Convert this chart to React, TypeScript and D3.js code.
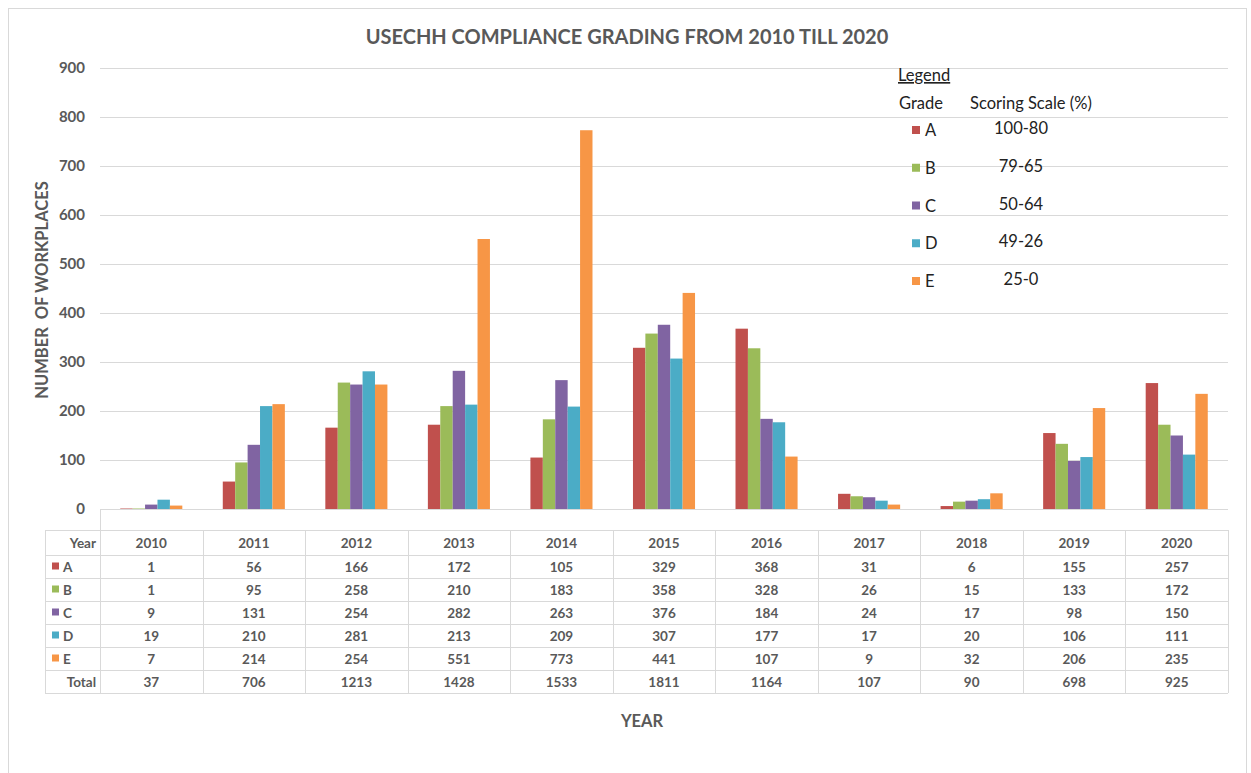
import React, { useRef, useEffect } from "react";
import * as d3 from "d3";

const years = ["2010", "2011", "2012", "2013", "2014", "2015", "2016", "2017", "2018", "2019", "2020"];
const grades = ["A", "B", "C", "D", "E"];
const gradeColors = ["#c0504d", "#9bbb59", "#8064a2", "#4bacc6", "#f79646"];
const scoringScale = ["100-80", "79-65", "50-64", "49-26", "25-0"];

const gradeA = [1, 56, 166, 172, 105, 329, 368, 31, 6, 155, 257];
const gradeB = [1, 95, 258, 210, 183, 358, 328, 26, 15, 133, 172];
const gradeC = [9, 131, 254, 282, 263, 376, 184, 24, 17, 98, 150];
const gradeD = [19, 210, 281, 213, 209, 307, 177, 17, 20, 106, 111];
const gradeE = [7, 214, 254, 551, 773, 441, 107, 9, 32, 206, 235];
const totals = [37, 706, 1213, 1428, 1533, 1811, 1164, 107, 90, 698, 925];

const yTicks = [0, 100, 200, 300, 400, 500, 600, 700, 800, 900];

const FONT = "Lato, 'Open Sans', sans-serif";
const GREY = "#595959";

const App = () => {
  const divRef = useRef<HTMLDivElement>(null);

  useEffect(() => {
    const root = d3.select(divRef.current);
    root.selectAll("*").remove();
    const svg = root
      .append("svg")
      .attr("width", 1251)
      .attr("height", 773)
      .style("position", "absolute")
      .style("left", "0px")
      .style("top", "0px")
      .style("font-family", FONT);

    svg.append("rect").attr("width", 1251).attr("height", 773).attr("fill", "#fff");
    // outer chart border
    svg
      .append("rect")
      .attr("x", 8.5)
      .attr("y", 8.5)
      .attr("width", 1238)
      .attr("height", 780)
      .attr("fill", "none")
      .attr("stroke", "#d9d9d9");

    const left = 100;
    const right = 1228;
    const x0 = d3.scaleBand<string>().domain(years).range([left, right]);
    const x1 = d3
      .scaleBand<string>()
      .domain(grades)
      .range([0, x0.bandwidth()])
      .paddingInner(0)
      .paddingOuter(1.63);
    const y = d3.scaleLinear().domain([0, 900]).range([509, 68]);

    // gridlines
    svg
      .append("g")
      .selectAll("line")
      .data(yTicks.filter((t) => t > 0))
      .join("line")
      .attr("x1", left)
      .attr("x2", right)
      .attr("y1", (d) => Math.round(y(d)) + 0.5)
      .attr("y2", (d) => Math.round(y(d)) + 0.5)
      .attr("stroke", "#d9d9d9");

    // y tick labels
    svg
      .append("g")
      .selectAll("text")
      .data(yTicks)
      .join("text")
      .attr("x", 85)
      .attr("y", (d) => y(d) + 5)
      .attr("text-anchor", "end")
      .attr("font-size", 15)
      .attr("font-weight", "bold")
      .attr("fill", GREY)
      .text((d) => d);

    const series = [gradeA, gradeB, gradeC, gradeD, gradeE];
    const barData = years.flatMap((yr, i) =>
      grades.map((g, k) => ({ yr, g, k, v: series[k][i] }))
    );
    svg
      .append("g")
      .selectAll("rect")
      .data(barData)
      .join("rect")
      .attr("x", (d) => (x0(d.yr) ?? 0) + (x1(d.g) ?? 0))
      .attr("width", x1.bandwidth())
      .attr("y", (d) => y(d.v))
      .attr("height", (d) => y(0) - y(d.v))
      .attr("fill", (d) => gradeColors[d.k]);

    // axis line
    svg
      .append("line")
      .attr("x1", left)
      .attr("x2", right)
      .attr("y1", 509.5)
      .attr("y2", 509.5)
      .attr("stroke", "#d9d9d9");

    // data table
    const tLeft = 45;
    const tTop = 530;
    const rowHs = [25, 23, 23, 23, 23, 23, 23];
    const rowY = [tTop];
    rowHs.forEach((h, i) => rowY.push(rowY[i] + h));
    const tBottom = rowY[rowY.length - 1];
    const tg = svg.append("g").attr("stroke", "#d9d9d9").attr("fill", "none");
    rowY.forEach((yy) => {
      tg.append("line")
        .attr("x1", tLeft)
        .attr("x2", right)
        .attr("y1", Math.round(yy) + 0.5)
        .attr("y2", Math.round(yy) + 0.5);
    });
    tg.append("line").attr("x1", tLeft + 0.5).attr("x2", tLeft + 0.5).attr("y1", tTop).attr("y2", tBottom);
    tg.append("line").attr("x1", left + 0.5).attr("x2", left + 0.5).attr("y1", 509).attr("y2", tBottom);
    years.forEach((yr) => {
      const xe = Math.round((x0(yr) ?? 0) + x0.bandwidth()) + 0.5;
      tg.append("line").attr("x1", xe).attr("x2", xe).attr("y1", tTop).attr("y2", tBottom);
    });

    const rows: (string | number)[][] = [years, gradeA, gradeB, gradeC, gradeD, gradeE, totals];
    const rowLabels = ["Year", "A", "B", "C", "D", "E", "Total"];
    rows.forEach((vals, r) => {
      const cy = (rowY[r] + rowY[r + 1]) / 2 + 5;
      vals.forEach((v, i) => {
        svg
          .append("text")
          .attr("x", (x0(years[i]) ?? 0) + x0.bandwidth() / 2)
          .attr("y", cy)
          .attr("text-anchor", "middle")
          .attr("font-size", 13.5)
          .attr("font-weight", "bold")
          .attr("fill", GREY)
          .text(v);
      });
      if (r === 0 || r === 6) {
        svg
          .append("text")
          .attr("x", 96)
          .attr("y", cy)
          .attr("text-anchor", "end")
          .attr("font-size", 13.5)
          .attr("font-weight", "bold")
          .attr("fill", GREY)
          .text(rowLabels[r]);
      } else {
        svg
          .append("rect")
          .attr("x", 52)
          .attr("y", cy - 9)
          .attr("width", 7)
          .attr("height", 7)
          .attr("fill", gradeColors[r - 1]);
        svg
          .append("text")
          .attr("x", 63)
          .attr("y", cy)
          .attr("font-size", 13.5)
          .attr("font-weight", "bold")
          .attr("fill", GREY)
          .text(rowLabels[r]);
      }
    });

    // title
    svg
      .append("text")
      .attr("x", 627)
      .attr("y", 44)
      .attr("text-anchor", "middle")
      .attr("font-size", 20)
      .attr("font-weight", "bold")
      .attr("fill", GREY)
      .text("USECHH COMPLIANCE GRADING FROM 2010 TILL 2020");

    // axis titles
    svg
      .append("text")
      .attr("transform", "translate(48,290) rotate(-90)")
      .attr("text-anchor", "middle")
      .attr("font-size", 16.5)
      .attr("font-weight", "bold")
      .attr("fill", GREY)
      .style("white-space", "pre")
      .text("NUMBER  OF WORKPLACES");
    svg
      .append("text")
      .attr("x", 642)
      .attr("y", 727)
      .attr("text-anchor", "middle")
      .attr("font-size", 16.5)
      .attr("font-weight", "bold")
      .attr("fill", GREY)
      .text("YEAR");

    // legend
    const lg = svg.append("g").attr("fill", "#222").attr("font-size", 16.5);
    lg.append("text").attr("x", 898).attr("y", 81).attr("text-decoration", "underline").text("Legend");
    lg.append("text").attr("x", 899).attr("y", 109).text("Grade");
    lg.append("text").attr("x", 970).attr("y", 109).text("Scoring Scale (%)");
    const ly = d3.scaleLinear().domain([0, 4]).range([136, 287]);
    grades.forEach((g, i) => {
      lg.append("rect")
        .attr("x", 912)
        .attr("y", ly(i) - 10)
        .attr("width", 8)
        .attr("height", 8)
        .attr("fill", gradeColors[i]);
      lg.append("text").attr("x", 925).attr("y", ly(i)).text(g);
      lg.append("text")
        .attr("x", 1021)
        .attr("y", ly(i) - 2)
        .attr("text-anchor", "middle")
        .text(scoringScale[i]);
    });
  }, []);

  return <div id="usechh-chart" ref={divRef}></div>;
};

export default App;
